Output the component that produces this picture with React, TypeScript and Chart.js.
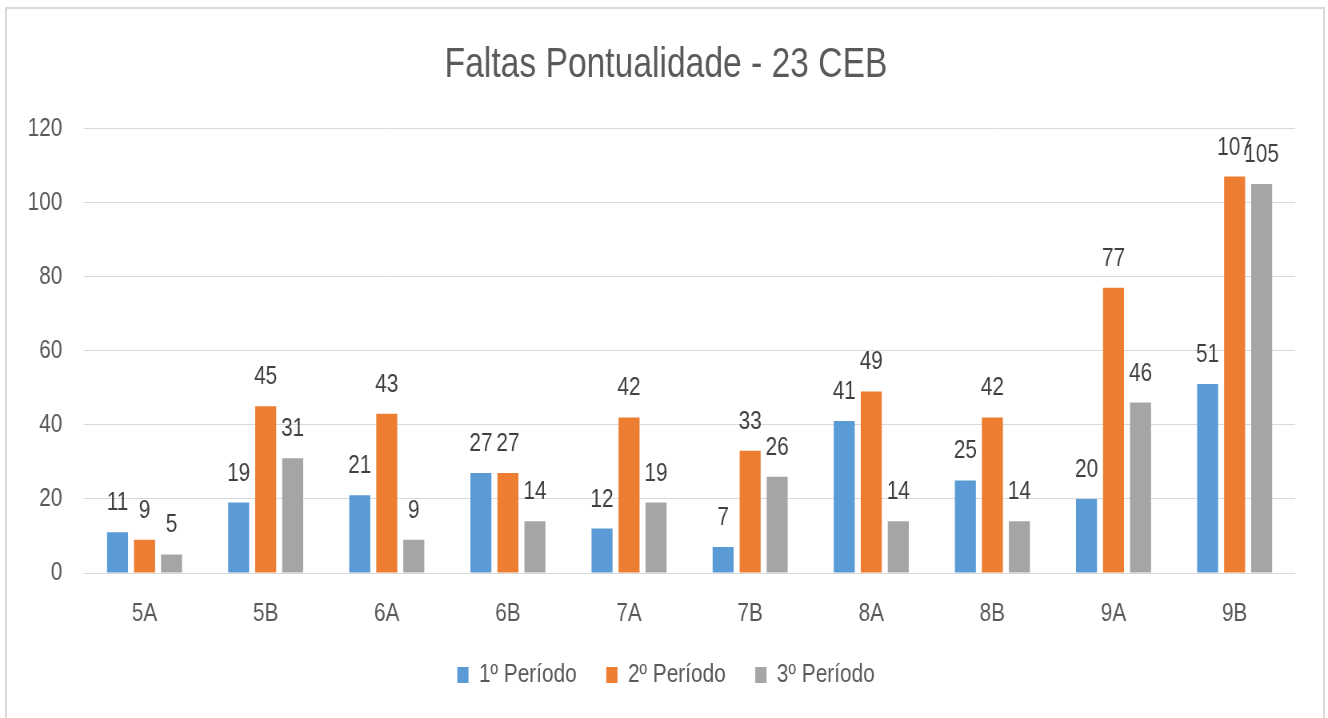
import React, { useEffect, useRef } from "react";
import { Chart, registerables } from "chart.js";

Chart.register(...registerables);

const categories = ["5A", "5B", "6A", "6B", "7A", "7B", "8A", "8B", "9A", "9B"];
const periodo1 = [11, 19, 21, 27, 12, 7, 41, 25, 20, 51];
const periodo2 = [9, 45, 43, 27, 42, 33, 49, 42, 77, 107];
const periodo3 = [5, 31, 9, 14, 19, 26, 14, 14, 46, 105];
const seriesNames = ["1º Período", "2º Período", "3º Período"];
const seriesColors = ["#5B9BD5", "#ED7D31", "#A5A5A5"];
const titleText = "Faltas Pontualidade - 23 CEB";
const yMin = 0;
const yMax = 120;
const yStep = 20;

const FONT = "'Liberation Sans', Arial, sans-serif";
// canvas is drawn wider and shown squeezed horizontally (condensed text look)
const SQUEEZE = 0.8;
const VIEW_W = 1328;
const VIEW_H = 718;
const CANVAS_W = Math.round(VIEW_W / SQUEEZE);

const dataLabelPlugin = {
  id: "dataLabelPlugin",
  afterDatasetsDraw(chart: any) {
    const ctx = chart.ctx;
    ctx.save();
    ctx.font = `26px ${FONT}`;
    ctx.fillStyle = "#404040";
    ctx.textAlign = "center";
    ctx.textBaseline = "alphabetic";
    chart.data.datasets.forEach((ds: any, i: number) => {
      const meta = chart.getDatasetMeta(i);
      meta.data.forEach((bar: any, j: number) => {
        ctx.fillText(String(ds.data[j]), bar.x, bar.y - 22);
      });
    });
    ctx.restore();
  },
};

const yTickPlugin = {
  id: "yTickPlugin",
  afterDraw(chart: any) {
    const ctx = chart.ctx;
    const scale = chart.scales.y;
    ctx.save();
    ctx.font = `26px ${FONT}`;
    ctx.fillStyle = "#595959";
    ctx.textAlign = "right";
    ctx.textBaseline = "middle";
    scale.ticks.forEach((t: any) => {
      ctx.fillText(String(t.value), chart.chartArea.left - 27, scale.getPixelForValue(t.value));
    });
    ctx.restore();
  },
};

export default function App() {
  const ref = useRef<HTMLCanvasElement | null>(null);
  useEffect(() => {
    if (!ref.current) return;
    const chart = new Chart(ref.current, {
      type: "bar",
      data: {
        labels: categories,
        datasets: [periodo1, periodo2, periodo3].map((d, i) => ({
          label: seriesNames[i],
          data: d,
          backgroundColor: seriesColors[i],
          categoryPercentage: 0.669,
          barPercentage: 0.778,
        })),
      },
      options: {
        animation: false,
        responsive: false,
        devicePixelRatio: 1,
        layout: { padding: { left: 46, right: 41, top: 0, bottom: 20 } },
        plugins: {
          title: {
            display: true,
            text: titleText,
            color: "#595959",
            font: { family: FONT, size: 42, weight: "normal" },
            padding: { top: 40, bottom: 38 },
          },
          legend: {
            position: "bottom",
            labels: {
              color: "#595959",
              font: { family: FONT, size: 26 },
              boxWidth: 14,
              boxHeight: 16,
              padding: 37,
            },
          },
          tooltip: { enabled: false },
        },
        scales: {
          x: {
            grid: { display: false, drawTicks: false },
            border: { display: false },
            ticks: { color: "#595959", font: { family: FONT, size: 26 }, padding: 25 },
            afterFit: (s: any) => {
              s.height = 52;
            },
          },
          y: {
            min: yMin,
            max: yMax,
            grid: { color: "#D9D9D9", drawTicks: false },
            border: { display: false },
            ticks: { stepSize: yStep, display: false },
            afterFit: (s: any) => {
              s.width = 59;
            },
          },
        },
      },
      plugins: [dataLabelPlugin, yTickPlugin],
    });
    return () => chart.destroy();
  }, []);
  return (
    <div style={{ position: "fixed", left: 0, top: 0, width: VIEW_W, height: VIEW_H, background: "#fff" }}>
      <div
        style={{
          position: "absolute",
          left: 5,
          top: 7,
          width: 1316,
          height: 720,
          border: "2px solid #D9D9D9",
        }}
      />
      <canvas
        ref={ref}
        width={CANVAS_W}
        height={VIEW_H}
        style={{ position: "absolute", left: 0, top: 0, width: VIEW_W + "px", height: VIEW_H + "px" }}
      />
    </div>
  );
}
